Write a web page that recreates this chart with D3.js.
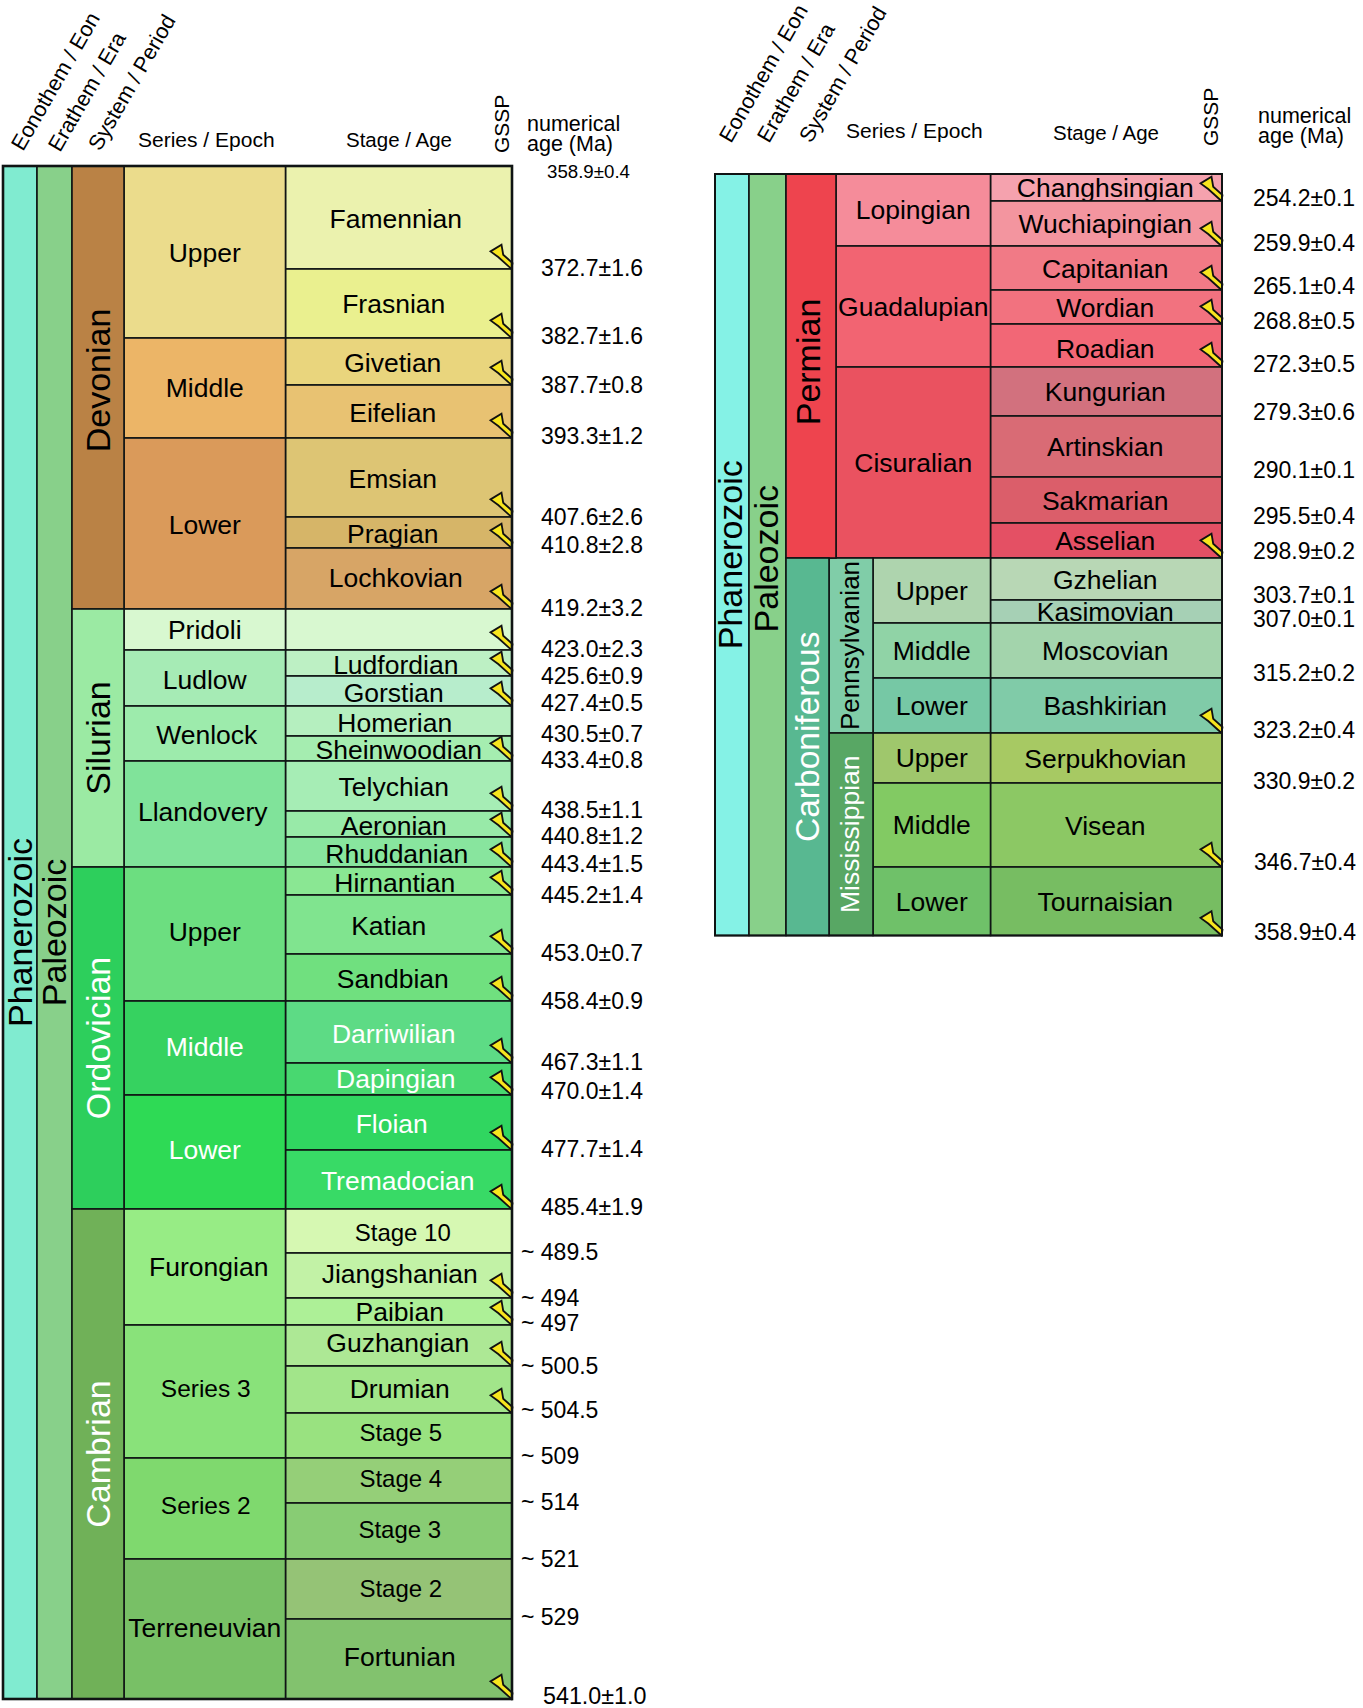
<!DOCTYPE html>
<html><head><meta charset="utf-8">
<script src="https://cdn.jsdelivr.net/npm/d3@7"></script>
<style>html,body{margin:0;padding:0;background:#fff}svg{display:block}text{font-family:"Liberation Sans",Arial,sans-serif}</style>
</head><body><svg id="c" width="1363" height="1708"></svg>
<script>
// ---------- DATA: left column (Devonian to Cambrian) ----------
const leftStages = ["Famennian","Frasnian","Givetian","Eifelian","Emsian","Pragian","Lochkovian","","Ludfordian","Gorstian","Homerian","Sheinwoodian","Telychian","Aeronian","Rhuddanian","Hirnantian","Katian","Sandbian","Darriwilian","Dapingian","Floian","Tremadocian","Stage 10","Jiangshanian","Paibian","Guzhangian","Drumian","Stage 5","Stage 4","Stage 3","Stage 2","Fortunian"];
const leftThickness = [103,69,47,53,79,31,61,41,26,30,30,25,50,26,30,28,59,47,62,32,55,59,44,45,27,41,47,45,45,56,60,80];
const leftStageColors = ["#ebf2ae","#eaf08f","#e9d57d","#e8c272","#ddc574","#d6b568","#d7a566","#d8f8d0","#bdf0c4","#b7edcc","#b5efbf","#a5edb0","#a6edb5","#98eaa8","#88e59e","#8ae793","#80e48f","#70e07f","#5ddb85","#48d870","#30d660","#38da66","#d6f8b2","#c2f2a6","#adf097","#ade895","#a2e58a","#99e280","#95cf78","#88cc74","#95c376","#82c26e"];
const leftAges = ["372.7±1.6","382.7±1.6","387.7±0.8","393.3±1.2","407.6±2.6","410.8±2.8","419.2±3.2","423.0±2.3","425.6±0.9","427.4±0.5","430.5±0.7","433.4±0.8","438.5±1.1","440.8±1.2","443.4±1.5","445.2±1.4","453.0±0.7","458.4±0.9","467.3±1.1","470.0±1.4","477.7±1.4","485.4±1.9","~ 489.5","~ 494","~ 497","~ 500.5","~ 504.5","~ 509","~ 514","~ 521","~ 529","541.0±1.0"];
const leftTopAge = "358.9±0.4";
const leftGssp = ["Famennian","Frasnian","Givetian","Eifelian","Emsian","Pragian","Lochkovian","","Ludfordian","Gorstian","Sheinwoodian","Telychian","Aeronian","Rhuddanian","Hirnantian","Katian","Sandbian","Darriwilian","Dapingian","Floian","Tremadocian","Jiangshanian","Paibian","Guzhangian","Drumian","Fortunian"];
const leftSeries = ["Upper","Middle","Lower","Pridoli","Ludlow","Wenlock","Llandovery","Upper","Middle","Lower","Furongian","Series 3","Series 2","Terreneuvian"];
const leftSeriesCounts = [2,2,3,1,2,2,3,3,2,2,3,3,2,2];
const leftSeriesColors = ["#ebdc8c","#ecb567","#da9a5a","#d8f8d0","#a6ebb5","#9debac","#80e39a","#6cde80","#36d260","#2eda55","#97ec85","#89e27a","#7fd96e","#78c066"];
const leftSystems = ["Devonian","Silurian","Ordovician","Cambrian"];
const leftSystemCounts = [7,8,7,10];
const leftSystemColors = ["#ba8245","#9beaa3","#2dcf5c","#70b158"];
// ---------- DATA: right column (Permian and Carboniferous) ----------
const rightStages = ["Changhsingian","Wuchiapingian","Capitanian","Wordian","Roadian","Kungurian","Artinskian","Sakmarian","Asselian","Gzhelian","Kasimovian","Moscovian","Bashkirian","Serpukhovian","Visean","Tournaisian"];
const rightThickness = [27,45,44,34,43,49,61,46,35,42,23,55,55,50,84,68.5];
const rightStageColors = ["#f5a2ae","#f3959f","#f17a86","#f2727f","#f26776","#d2717e","#d96b75","#db5e6a","#e45064","#b8d7b5","#a6d0b5","#a3d4ac","#80cba8","#a7c963","#8cc864","#77bd62"];
const rightAges = ["254.2±0.1","259.9±0.4","265.1±0.4","268.8±0.5","272.3±0.5","279.3±0.6","290.1±0.1","295.5±0.4","298.9±0.2","303.7±0.1","307.0±0.1","315.2±0.2","323.2±0.4","330.9±0.2","346.7±0.4","358.9±0.4"];
const rightGssp = ["Changhsingian","Wuchiapingian","Capitanian","Wordian","Roadian","Asselian","Bashkirian","Visean","Tournaisian"];
const rightSeries = ["Lopingian","Guadalupian","Cisuralian","Upper","Middle","Lower","Upper","Middle","Lower"];
const rightSeriesCounts = [2,3,4,2,1,1,1,1,1];
const rightSeriesColors = ["#f58c9a","#f26472","#ea5260","#aed4ae","#90d3a6","#76c8a5","#9fc76c","#82ca63","#6fc169"];
const rightSubsystems = ["Pennsylvanian","Mississippian"];
const rightSubsystemCounts = [4,3];
const rightSubsystemColors = ["#80cda8","#58a764"];
const rightSystems = ["Permian","Carboniferous"];
const rightSystemCounts = [9,7];
const rightSystemColors = ["#ee444e","#58b891"];
const headers = ["Eonothem / Eon","Erathem / Era","System / Period","Series / Epoch","Stage / Age","GSSP","numerical","age (Ma)"];

// ---------- LAYOUT ----------
const whiteLabels = new Set(["Ordovician","Cambrian","Carboniferous","Mississippian","Darriwilian","Dapingian","Floian","Tremadocian"]);
const whiteSeries = new Set(["left:8","left:9"]);
const stageShift = {Famennian:-3,Frasnian:-5,Givetian:-6,Eifelian:-6,Emsian:-6,Pragian:-6,Lochkovian:-3,Ludfordian:-3,Gorstian:-5,Homerian:-4,Sheinwoodian:0,Telychian:-5,Aeronian:-5,Rhuddanian:-2,Hirnantian:-4,Katian:-10,Sandbian:-6,Darriwilian:-5,Dapingian:-3,Floian:-7,Tremadocian:-1,"Stage 10":4,Guzhangian:-1,Jiangshanian:1,Paibian:1,Drumian:1,"Stage 5":2,"Stage 4":2,"Stage 3":1,"Stage 2":2,Fortunian:1};
const stageShiftY = {Lochkovian:-2,Pridoli:-1,Frasnian:-1,Telychian:-1,Dapingian:-2,Jiangshanian:-3,Paibian:-1,Guzhangian:-4,Drumian:-2,"Stage 5":-4,"Stage 4":-3,"Stage 3":-3,"Stage 2":-2,Fortunian:-4,Roadian:3};
const leftSeriesShift = [[0,0],[0,-1],[0,0],[0,-1],[0,1],[2,0],[-2,-3],[0,-3],[0,-2],[0,-3],[4,-1],[1,-4],[1,-4],[0,-2]];
const leftAgeShift = [0,-1,1,-1,1,-2,0,0,1,-1.5,-1,0,0,0,-2,1,0,1,0,-3,0,-1,0,1,-1,1,-2,-1,0,1,-1,-2];
const rightAgeShift = [0,0,-1,0,0,-1,-4,-4,-4,-2,-1,-2,0,1,-2,-0.5];
const systemNudge = {Devonian:-7,Permian:-4,Carboniferous:-10};
const systemXNudge = {Permian:-3};
const svg = d3.select("#c");
const ink = "#101414";

function spans(counts, names, colors){
  let at = 0;
  return counts.map((n,i)=>{ const s={name:names[i],color:colors[i],i,from:at,to:at+n}; at+=n; return s; });
}
function cell(g, x0, x1, y0, y1, fill, sw){
  g.append("rect").attr("x",x0).attr("y",y0).attr("width",x1-x0).attr("height",y1-y0)
    .attr("fill",fill).attr("stroke",ink).attr("stroke-width",sw||1.6);
}
function label(g, x, y, txt, size, fill, rot){
  const t = g.append("text").attr("text-anchor","middle").attr("font-size",size).attr("fill",fill||"#000").attr("dy","0.35em").text(txt);
  if(rot) t.attr("transform",`translate(${x},${y}) rotate(-90)`); else t.attr("x",x).attr("y",y);
  return t;
}
const nail = "M0,0 L-13.3,-12 L-21,-17.6 L-10,-24.3 L-8.3,-14.3 L1,-6 Z";

function panel(o){
  const g = svg.append("g");
  const cum = [0, ...d3.cumsum(o.thickness)];
  const y = d3.scaleLinear().domain([0,d3.sum(o.thickness)]).range(o.yRange);
  const Y = i => y(cum[i]);
  const X = o.x;
  // eon + era
  cell(g,X.eon,X.era,Y(0),Y(o.stages.length),o.eonColor);
  cell(g,X.era,X.sys,Y(0),Y(o.stages.length),o.eraColor);
  const midAll=(Y(0)+Y(o.stages.length))/2;
  label(g,(X.eon+X.era)/2+o.eonDx,midAll,"Phanerozoic",34,"#000",true);
  label(g,(X.era+X.sys)/2+o.eonDx/2,midAll+o.eraNudge,"Paleozoic",34,"#000",true);
  // stages
  o.stages.forEach((s,i)=>{
    cell(g,X.stage,X.end,Y(i),Y(i+1),o.stageColors[i]);
    const size = /^Stage /.test(s)?24:26.5;
    const dx = o.isLeft ? (stageShift[s]||0) : -1;
    const dy = (o.isLeft?1.5:0.5)+(stageShiftY[s]||0);
    if(s) label(g,(X.stage+X.end)/2+dx,(Y(i)+Y(i+1))/2+dy,s,size,whiteLabels.has(s)?"#fff":"#000");
  });
  // series
  spans(o.seriesCounts,o.series,o.seriesColors).forEach(s=>{
    const left = X.seriesAt(s.from);
    cell(g,left,X.stage,Y(s.from),Y(s.to),s.color);
    const size = /^Series \d/.test(s.name)?24.5:26.5;
    const sh = o.isLeft ? leftSeriesShift[s.i] : [0,-1];
    label(g,(left+X.stage)/2+sh[0],(Y(s.from)+Y(s.to))/2+1+sh[1],s.name,size,
      whiteSeries.has((o.isLeft?"left:":"right:")+s.i)?"#fff":"#000");
  });
  // subsystems
  if(o.subsystems){
    spans(o.subsystemCounts,o.subsystems,o.subsystemColors).forEach(s=>{
      const a=s.from+o.subsystemOffset,b=s.to+o.subsystemOffset;
      cell(g,X.sub,X.subEnd,Y(a),Y(b),s.color);
      label(g,(X.sub+X.subEnd)/2-1,(Y(a)+Y(b))/2,s.name,s.name==="Pennsylvanian"?26:26.5,whiteLabels.has(s.name)?"#fff":"#000",true);
    });
  }
  // systems
  spans(o.systemCounts,o.systems,o.systemColors).forEach(s=>{
    const right = o.systemRight(s.name);
    cell(g,X.sys,right,Y(s.from),Y(s.to),s.color);
    label(g,(X.sys+right)/2+(systemXNudge[s.name]||0),(Y(s.from)+Y(s.to))/2+(systemNudge[s.name]||0),s.name,s.name==="Carboniferous"?33.5:34,whiteLabels.has(s.name)?"#fff":"#000",true);
  });
  // GSSP nails
  o.stages.forEach((s,i)=>{
    if(o.gssp.includes(s)){
      g.append("path").attr("d",nail).attr("transform",`translate(${X.end-0.5},${Y(i+1)})`)
        .attr("fill","#f7e51e").attr("stroke","#111").attr("stroke-width",1.8).attr("stroke-linejoin","miter");
    }
  });
  // outer frame
  g.append("rect").attr("x",X.eon).attr("y",Y(0)).attr("width",X.end-X.eon).attr("height",Y(o.stages.length)-Y(0))
    .attr("fill","none").attr("stroke",ink).attr("stroke-width",o.frame);
  // ages
  o.ages.forEach((a,i)=>{
    const tilde=a[0]==="~";
    const last=i===o.ages.length-1&&o.isLeft;
    g.append("text").attr("x",o.ageX+(tilde?-20:0)+(last?2:0)+(!o.isLeft&&i>=14?1:0)).attr("y",Y(i+1)+o.ageDy+o.ageShift[i])
      .attr("dy","0.35em").attr("font-size",last?23.3:23).attr("fill","#000").text(a);
  });
  // headers
  const H=o.head;
  [[0,H.a[0],H.a[1]],[1,H.b[0],H.b[1]],[2,H.c[0],H.c[1]]].forEach(d=>{
    g.append("text").attr("transform",`translate(${d[1]},${d[2]}) rotate(-60)`).attr("font-size",21.6).attr("fill","#000").text(headers[d[0]]);
  });
  g.append("text").attr("x",H.series[0]).attr("y",H.series[1]).attr("font-size",21).text(headers[3]);
  g.append("text").attr("x",H.stage[0]).attr("y",H.stage[1]).attr("font-size",20.5).text(headers[4]);
  g.append("text").attr("transform",`translate(${H.gssp[0]},${H.gssp[1]}) rotate(-90)`).attr("font-size",21).text(headers[5]);
  g.append("text").attr("x",H.num[0]).attr("y",H.num[1]).attr("font-size",21.5).text(headers[6]);
  g.append("text").attr("x",H.num[0]).attr("y",H.num[2]).attr("font-size",21.5).text(headers[7]);
  return {g,Y};
}

const L = panel({
  isLeft:true, stages:leftStages, thickness:leftThickness, stageColors:leftStageColors, ages:leftAges, gssp:leftGssp,
  series:leftSeries, seriesCounts:leftSeriesCounts, seriesColors:leftSeriesColors,
  systems:leftSystems, systemCounts:leftSystemCounts, systemColors:leftSystemColors, systemRight:()=>124,
  yRange:[166,1699], eonColor:"#80ebd0", eraColor:"#88d08a", eraNudge:0, eonDx:0, frame:2.6, ageX:541, ageDy:-1.5, ageShift:leftAgeShift,
  x:{eon:3,era:37,sys:72,stage:285.5,end:512,seriesAt:()=>124},
  head:{a:[23,152],b:[60,153],c:[100,152],series:[138,147],stage:[346,147],gssp:[509,153],num:[527,131,151]}
});
L.g.append("text").attr("x",547).attr("y",171).attr("dy","0.35em").attr("font-size",18.7).text(leftTopAge);

panel({
  isLeft:false, stages:rightStages, thickness:rightThickness, stageColors:rightStageColors, ages:rightAges, gssp:rightGssp,
  series:rightSeries, seriesCounts:rightSeriesCounts, seriesColors:rightSeriesColors,
  subsystems:rightSubsystems, subsystemCounts:rightSubsystemCounts, subsystemColors:rightSubsystemColors, subsystemOffset:9,
  systems:rightSystems, systemCounts:rightSystemCounts, systemColors:rightSystemColors, systemRight:n=>n==="Permian"?836:829,
  yRange:[174,935.5], eonColor:"#85f2e6", eraColor:"#88d08a", eraNudge:4, eonDx:-2, frame:2, ageX:1253, ageDy:-3, ageShift:rightAgeShift,
  x:{eon:715,era:749,sys:786,sub:829,subEnd:873,stage:990.5,end:1222,seriesAt:f=>f>=9?873:836},
  head:{a:[731,144],b:[769,144],c:[811,144],series:[846,138],stage:[1053,140],gssp:[1218,146],num:[1258,123,143]}
});
</script></body></html>
